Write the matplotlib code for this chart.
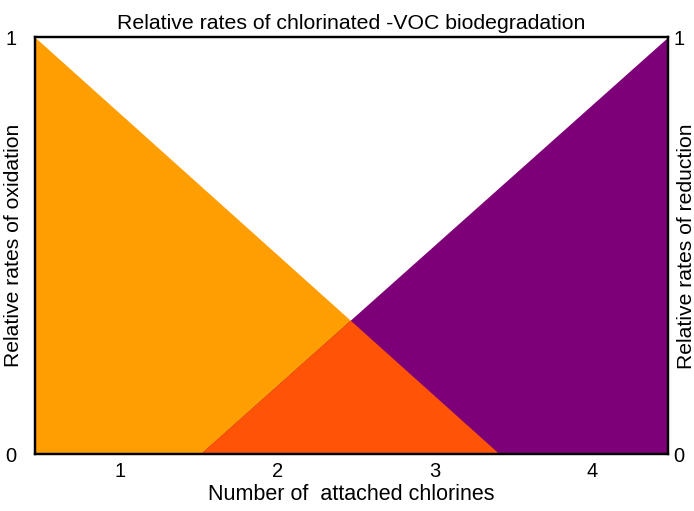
import numpy as np
import matplotlib
matplotlib.use("Agg")
import matplotlib.pyplot as plt

# endpoints of the two rate lines (x = number of chlorines, y = relative rate)
oxid_x = [0.46, 3.41]
oxid_y = [1.0, 0.0]
red_x = [1.51, 4.48]
red_y = [0.0, 1.0]
x_ticks = [1, 2, 3, 4]
y_ticks = [0, 1]

plt.rcParams['font.family'] = ['Liberation Sans', 'DejaVu Sans']

fig = plt.figure(figsize=(6.94, 5.11), dpi=100)
ax = fig.add_axes([0.050, 0.1115, 0.9125, 0.816])

x = np.linspace(oxid_x[0], red_x[1], 2000)
ox = np.interp(x, oxid_x, oxid_y, left=1.0, right=0.0)
rd = np.interp(x, red_x, red_y, left=0.0, right=1.0)

ax.fill_between(x, 0, ox, color='#FF9E00', lw=0)
ax.fill_between(x, 0, rd, color='#7D0078', lw=0)
ax.fill_between(x, 0, np.minimum(ox, rd), color='#FF5306', lw=0)

ax.set_xlim(oxid_x[0], red_x[1])
ax.set_ylim(0, 1)
ax.set_xticks(x_ticks)
ax.set_yticks(y_ticks)
ax.tick_params(length=0, labelsize=14.5)
ax.tick_params(axis='x', pad=6)
ax.tick_params(axis='y', pad=13)
for s in ax.spines.values():
    s.set_linewidth(1.6)

ax.set_title('Relative rates of chlorinated -VOC biodegradation', fontsize=15.3, pad=6)
ax.set_xlabel('Number of  attached chlorines', fontsize=15.5, labelpad=2)

ax2 = ax.twinx()
ax2.set_ylim(0, 1)
ax2.set_yticks(y_ticks)
ax2.tick_params(length=0, labelsize=14.5, pad=4)
for s in ax2.spines.values():
    s.set_linewidth(1.6)

# side labels placed in figure pixels
fig.text(14 / 694, 1 - 245 / 511, 'Relative rates of oxidation', rotation=90,
         ha='center', va='center', fontsize=15.2)
fig.text(686 / 694, 1 - 246 / 511, 'Relative rates of reduction', rotation=90,
         ha='center', va='center', fontsize=15.2)

fig.savefig('out.png', dpi=100)
